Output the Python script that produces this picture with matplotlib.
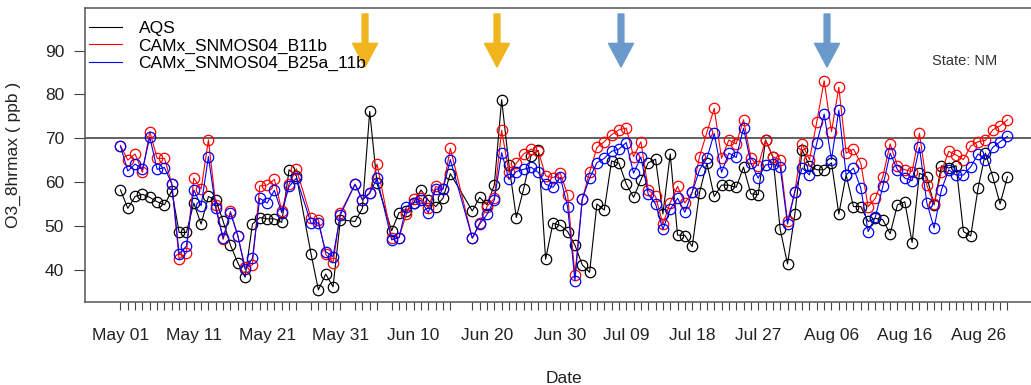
import numpy as np
import pandas as pd
import matplotlib
matplotlib.use("Agg")
import matplotlib.pyplot as plt
import matplotlib.dates as mdates
from matplotlib.lines import Line2D

plt.rcParams['font.family'] = ['Liberation Sans', 'DejaVu Sans']

# ---- data ----
start_date = "2006-05-01"
end_date = "2006-08-30"
missing_dates = ["2006-05-26", "2006-06-01", "2006-06-06", "2006-06-16", "2006-06-17"]

aqs = [58.2, 54.0, 56.7, 57.2, 56.5, 55.5, 54.8, 58.0, 48.5, 48.5,
       55.2, 50.4, 56.7, 55.9, 51.1, 45.6, 41.6, 38.3, 50.4, 51.9,
       51.6, 51.6, 50.8, 62.8, 61.4, 43.6, 35.4, 39.0, 36.1, 51.4,
       51.0, 54.0, 76.1, 59.7, 48.9, 53.0, 53.3, 55.3, 58.2, 55.8,
       54.4, 56.3, 61.9, 53.4, 56.5, 54.8, 59.3, 78.8, 63.9, 51.9,
       58.4, 66.0, 67.2, 42.4, 50.6, 50.1, 48.7, 45.6, 41.1, 39.4,
       55.0, 53.6, 64.8, 64.3, 59.6, 56.5, 60.5, 64.4, 65.2, 52.7,
       66.4, 47.9, 47.8, 45.3, 57.6, 64.3, 56.7, 59.3, 59.3, 58.8,
       63.4, 57.3, 57.1, 69.6, 65.8, 49.2, 41.3, 52.7, 67.3, 63.7,
       62.8, 62.8, 64.4, 52.7, 61.6, 54.4, 54.4, 51.0, 51.7, 51.4,
       48.2, 54.8, 55.5, 46.2, 62.0, 61.2, 54.8, 63.7, 63.2, 63.7,
       48.7, 47.7, 58.6, 66.6, 61.2, 55.0, 61.2]

b11b = [68.3, 65.0, 66.4, 62.2, 71.5, 65.4, 65.4, 59.6, 42.4, 43.9,
        60.9, 58.4, 69.6, 54.8, 46.9, 53.3, 47.8, 40.6, 41.1, 59.1,
        59.3, 60.6, 53.5, 59.5, 63.0, 51.7, 51.4, 43.5, 41.6, 53.0,
        59.5, 56.0, 57.6, 64.1, 47.2, 47.3, 52.7, 56.1, 56.3, 54.0,
        59.0, 58.4, 67.7, 47.2, 50.6, 54.4, 56.3, 71.8, 62.2, 64.3,
        66.4, 67.5, 67.1, 61.4, 61.0, 62.0, 57.1, 38.8, 56.1, 62.2,
        67.9, 69.2, 70.8, 71.9, 72.3, 65.8, 69.2, 58.2, 56.7, 50.4,
        55.3, 59.0, 55.2, 57.7, 65.8, 71.3, 76.8, 65.4, 69.6, 68.7,
        74.2, 65.4, 63.7, 69.6, 65.7, 65.1, 51.0, 57.8, 68.7, 65.1,
        73.8, 83.1, 71.5, 81.6, 66.6, 67.5, 64.3, 54.4, 56.3, 61.2,
        68.7, 63.7, 62.8, 62.4, 71.1, 59.3, 55.0, 62.4, 67.0, 66.2,
        65.1, 68.2, 69.2, 69.5, 71.9, 72.8, 74.2]

b25a = [68.2, 62.5, 64.1, 62.9, 70.2, 62.9, 63.3, 59.6, 43.6, 45.4,
        58.2, 54.6, 65.8, 54.0, 47.2, 53.0, 47.8, 40.1, 42.6, 56.3,
        55.2, 58.1, 53.0, 59.0, 60.9, 50.6, 50.7, 44.1, 43.0, 52.5,
        59.5, 55.9, 57.4, 60.9, 46.8, 47.3, 54.4, 55.2, 55.8, 53.0,
        58.4, 58.4, 65.1, 47.2, 50.4, 52.6, 55.9, 66.7, 60.6, 62.4,
        62.9, 63.4, 62.2, 59.5, 58.8, 61.1, 54.4, 37.5, 56.1, 60.9,
        64.4, 65.4, 67.0, 67.5, 69.0, 62.0, 65.7, 57.2, 55.0, 49.2,
        53.8, 56.3, 53.1, 57.7, 62.8, 65.4, 71.1, 62.2, 66.6, 65.6,
        72.3, 64.3, 60.9, 63.9, 64.1, 63.4, 50.4, 57.8, 63.2, 61.6,
        68.9, 75.5, 65.1, 76.4, 61.6, 63.2, 58.6, 48.7, 52.1, 59.0,
        66.6, 62.8, 60.9, 60.3, 67.9, 55.3, 49.5, 58.2, 62.8, 61.6,
        61.6, 63.5, 66.4, 65.1, 67.9, 69.2, 70.4]

label_dates = ["2006-05-01", "2006-05-11", "2006-05-21", "2006-05-31", "2006-06-10",
               "2006-06-20", "2006-06-30", "2006-07-09", "2006-07-18", "2006-07-27",
               "2006-08-06", "2006-08-16", "2006-08-26"]
threshold = 70
series_names = ["AQS", "CAMx_SNMOS04_B11b", "CAMx_SNMOS04_B25a_11b"]
series_colors = ["black", "red", "blue"]
state_text = "State: NM"
arrow_x_px = [365, 497, 621, 827]
arrow_colors = ["#F0B41C", "#F0B41C", "#6A9ACB", "#6A9ACB"]

dates = pd.date_range(start_date, end_date, freq="D")
dates = dates[~dates.isin(pd.to_datetime(missing_dates))]

# ---- figure ----
W, H = 1031, 385
fig = plt.figure(figsize=(W / 100, H / 100), dpi=100)
fig.patch.set_facecolor("white")

left_px, top_px, bottom_px = 85, 8, 301.7
dnum = mdates.date2num(dates)
span = dnum[-1] - dnum[0]
pad = 0.04 * span
px_per_day = 7.33
width_px = (span + 2 * pad) * px_per_day
ax = fig.add_axes([left_px / W, 1 - bottom_px / H, width_px / W, (bottom_px - top_px) / H])

for vals, col in zip([aqs, b11b, b25a], series_colors):
    ax.plot(dates, vals, color=col, lw=0.8, marker="o", ms=7.5,
            mfc="none", mec=col, mew=0.9)

ax.axhline(threshold, color="#555555", lw=1.3, zorder=0)

ax.set_xlim(dnum[0] - pad, dnum[-1] + pad)
ax.set_ylim(32.7, 99.7)
ax.set_yticks([40, 50, 60, 70, 80, 90])

ax.set_xticks(dnum)
lbl_set = set(pd.to_datetime(label_dates))
ax.set_xticklabels([d.strftime("%b %d") if d in lbl_set else "" for d in dates])

for sp in ax.spines.values():
    sp.set_color("#555555")
    sp.set_linewidth(1.1)

ax.tick_params(axis="x", length=6, width=0.8, color="#444444", pad=13, labelsize=12.5)
ax.tick_params(axis="y", length=8, width=0.8, color="#444444", pad=7, labelsize=12.5)
for lab in ax.get_xticklabels() + ax.get_yticklabels():
    lab.set_color("#222222")

ax.set_xlabel("Date", fontsize=12.5, labelpad=20, color="#222222")
ax.set_ylabel("O3_8hrmax ( ppb )", fontsize=12.5, labelpad=17, color="#222222")

handles = [Line2D([], [], color=c, lw=0.8) for c in series_colors]
fig.legend(handles, series_names, loc="upper left",
           bbox_to_anchor=(89 / W, 1 - 21 / H), frameon=False, fontsize=12.5,
           handlelength=1.9, handletextpad=0.95, labelspacing=0.12,
           borderpad=0, borderaxespad=0)

fig.text(932 / W, 1 - 61 / H, state_text, fontsize=10.5, color="#333333",
         ha="left", va="center")

for xp, col in zip(arrow_x_px, arrow_colors):
    ax.annotate("", xy=(xp, H - 67), xycoords="figure pixels",
                xytext=(xp, H - 14), textcoords="figure pixels",
                arrowprops=dict(arrowstyle="simple,head_width=1.8,head_length=1.7,tail_width=0.42",
                                mutation_scale=10, color=col, shrinkA=0, shrinkB=0),
                annotation_clip=False)

fig.savefig("out.png", dpi=100, facecolor="white")
